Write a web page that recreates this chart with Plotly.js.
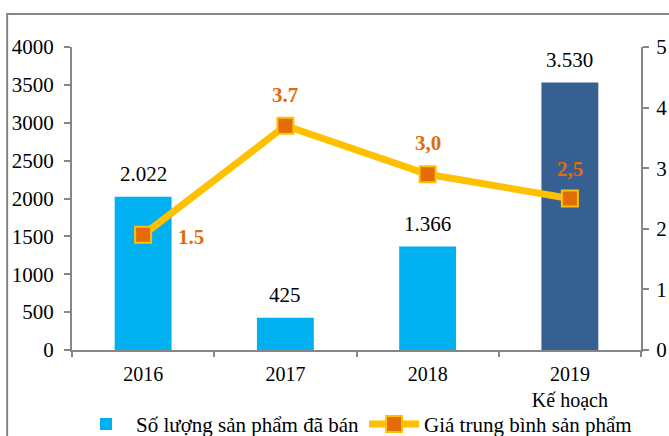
<!DOCTYPE html>
<html><head><meta charset="utf-8">
<script src="https://cdn.plot.ly/plotly-3.0.1.min.js"></script>
<style>html,body{margin:0;padding:0;background:#fff}#chart{width:669px;height:436px}</style>
</head><body><div id="chart"></div>
<script>
var categories = ["2016", "2017", "2018", "2019<br>Kế hoạch"];
var soldValues = [2022, 425, 1366, 3530];
var soldLabels = ["2.022", "425", "1.366", "3.530"];
var priceValues = [1.9, 3.7, 2.9, 2.5];
var priceLabels = ["1.5", "3.7", "3,0", "2,5"];
var barColors = ["#00B0F0", "#00B0F0", "#00B0F0", "#376092"];
var leftTicks = [0, 500, 1000, 1500, 2000, 2500, 3000, 3500, 4000];
var rightTicks = [0, 1, 2, 3, 4, 5];

var font = "Liberation Serif, Times New Roman, serif";
var fs = 21;
var traces = [
  {type: "bar", x: categories, y: soldValues, name: "Số lượng sản phẩm đã bán",
   marker: {color: barColors}, width: 0.4, hoverinfo: "none"},
  {type: "scatter", mode: "lines+markers", x: categories, y: priceValues, yaxis: "y2",
   name: "Giá trung bình sản phẩm",
   line: {color: "#FFC000", width: 7},
   marker: {symbol: "square", size: 16, color: "#E36C09", line: {color: "#FFC000", width: 2}},
   cliponaxis: false}
];
var annotations = [];
soldValues.forEach(function (v, i) {
  annotations.push({x: i, y: v, xref: "x", yref: "y", text: soldLabels[i],
    showarrow: false, yanchor: "middle", yshift: 23,
    font: {family: font, size: fs, color: "#000"}});
});
var priceShift = [[48, -2], [0, 31], [0, 31], [0, 30]];
priceValues.forEach(function (v, i) {
  annotations.push({x: i, y: v, xref: "x", yref: "y2", text: "<b>" + priceLabels[i] + "</b>",
    showarrow: false, yanchor: "middle", xshift: priceShift[i][0], yshift: priceShift[i][1],
    font: {family: font, size: fs, color: "#E36C09"}});
});
var layout = {
  width: 669, height: 436,
  margin: {l: 72, r: 28, t: 47, b: 86, autoexpand: false},
  paper_bgcolor: "#fff", plot_bgcolor: "#fff",
  font: {family: font, size: fs, color: "#000"},
  showlegend: true,
  legend: {orientation: "h", x: 0.5, xanchor: "center", y: -0.245, yanchor: "middle",
           bgcolor: "rgba(0,0,0,0)",
           font: {family: font, size: fs, color: "#000"}, itemwidth: 50, tracegroupgap: 0},
  annotations: annotations,
  xaxis: {type: "category", range: [-0.5, 3.5], showline: true, linecolor: "#868686", linewidth: 2,
          ticks: "outside", tickson: "boundaries", ticklen: 5, tickcolor: "#868686", tickwidth: 2,
          ticklabelstandoff: 5,
          showgrid: false, tickfont: {family: font, size: 20}},
  yaxis: {range: [0, 4000], tickvals: leftTicks, showline: true, linecolor: "#868686", linewidth: 2,
          ticks: "outside", ticklen: 6, tickcolor: "#868686", tickwidth: 2, showgrid: false,
          ticklabelstandoff: 6,
          zeroline: false, tickfont: {family: font, size: fs}},
  yaxis2: {range: [0, 5], tickvals: rightTicks, overlaying: "y", side: "right", showline: true,
           linecolor: "#868686", linewidth: 2, ticks: "outside", ticklen: 6, tickcolor: "#868686",
           tickwidth: 2, showgrid: false, zeroline: false, ticklabelstandoff: 3,
           tickfont: {family: font, size: fs}},
  shapes: [{type: "rect", xref: "paper", yref: "paper", x0: -0.114, x1: 1.2, y0: -0.5, y1: 1.109,
            line: {color: "#868686", width: 2}, fillcolor: "rgba(0,0,0,0)", layer: "below"}]
};
Plotly.newPlot("chart", traces, layout, {displayModeBar: false, staticPlot: true});
</script></body></html>
